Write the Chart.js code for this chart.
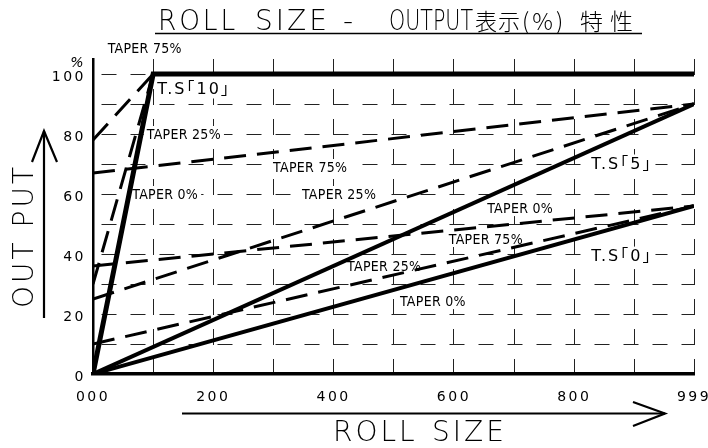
<!DOCTYPE html>
<html><head><meta charset="utf-8">
<script src="https://cdn.jsdelivr.net/npm/chart.js@4.4.0/dist/chart.umd.min.js"></script>
<style>html,body{margin:0;padding:0;background:#fff;}canvas{display:block;}</style>
</head><body>
<canvas id="c" width="708" height="448"></canvas>
<script>
// ---- data (x = roll size, y = output %) ----
const rollSize    = [0, 100, 999];
const ts10Taper0  = [0, 100, 100];
const ts10Taper25 = [30, 100, null];
const ts10Taper75 = [78, 100, null];
const ts5Taper0   = [0, null, 90];
const ts5Taper25  = [25, null, 90];
const ts5Taper75  = [67, null, 90];
const ts0Taper0   = [0, null, 56];
const ts0Taper25  = [10, null, 56];
const ts0Taper75  = [36, null, 56];

const xTickValues = [0,100,200,300,400,500,600,700,800,900,999];
const xTickLabels = ['000','','200','','400','','600','','800','','999'];
const yTickValues = [0,10,20,30,40,50,60,70,80,90,100];
const yTickLabels = ['0','','20','','40','','60','','80','','100'];

// annotation labels (data coordinates)
const noteTexts = ['TAPER 75%','T.S\uFF6210\uFF63','TAPER 25%','TAPER 75%','TAPER 0%','TAPER 25%','T.S\uFF625\uFF63','TAPER 0%','TAPER 75%','T.S\uFF620\uFF63','TAPER 25%','TAPER 0%'];
const noteX = [86, 168, 151, 361, 120, 409, 879, 710, 653, 879, 484, 565];
const noteY = [108.7, 95, 80, 69, 60, 60, 70, 55.3, 45, 39.3, 36, 24.3];

const toPoints = arr => rollSize.map((x, i) => ({x: x, y: arr[i]})).filter(p => p.y !== null);

const SOLID = [], DASH = [22, 11];
const series = [
  [ts10Taper0, 5, SOLID], [ts10Taper25, 3, DASH], [ts10Taper75, 3, DASH],
  [ts5Taper0, 4, SOLID],  [ts5Taper25, 3, DASH],  [ts5Taper75, 3, DASH],
  [ts0Taper0, 4, SOLID],  [ts0Taper25, 3, DASH],  [ts0Taper75, 3, DASH]
];

const deco = {
  id: 'deco',
  beforeDraw(chart) { chart.ctx.letterSpacing = '2.5px'; },
  beforeDatasetsDraw(chart) {
    const ctx = chart.ctx, xs = chart.scales.x, ys = chart.scales.y;
    ctx.save();
    ctx.textAlign = 'center'; ctx.textBaseline = 'middle';
    noteTexts.forEach((t, i) => {
      const isTS = t.startsWith('T.S');
      ctx.font = isTS ? '16px "DejaVu Sans", "Noto Sans CJK JP"' : '14px "DejaVu Sans Condensed", "DejaVu Sans"';
      ctx.letterSpacing = isTS ? '2px' : '0.3px';
      const px = xs.getPixelForValue(noteX[i]), py = ys.getPixelForValue(noteY[i]);
      const w = ctx.measureText(t).width, h = isTS ? 15 : 12;
      ctx.fillStyle = '#fff';
      ctx.fillRect(px - w / 2 - 3, py - h / 2 - 2, w + 6, h + 4);
      ctx.fillStyle = '#000';
      ctx.fillText(t, px, py + 1);
    });
    ctx.restore();
  },
  afterDraw(chart) {
    const ctx = chart.ctx;
    ctx.save();
    ctx.fillStyle = '#000'; ctx.strokeStyle = '#000';
    ctx.textBaseline = 'alphabetic'; ctx.textAlign = 'left';
    // title
    const tfont = '200 28px "DejaVu Sans", "Noto Sans CJK JP"';
    const cfont = '300 23px "Noto Sans CJK JP"';
    const parts = [['ROLL',158,3,tfont,80],['SIZE',255,3,tfont,80],['-',343,0,tfont,20],['OUTPUT',389,0,tfont,84],
                   ['表示',475,1,cfont,46],['(%)',522,3,cfont,46],['特性',580,7,cfont,70]];
    parts.forEach(p => { ctx.font = p[3]; ctx.letterSpacing = p[2] + 'px'; ctx.fillText(p[0], p[1], 30, p[4]); });
    ctx.letterSpacing = '0px';
    ctx.lineWidth = 1.5;
    ctx.beginPath(); ctx.moveTo(155, 33.5); ctx.lineTo(642, 33.5); ctx.stroke();
    // x axis title + arrow
    ctx.font = tfont;
    ctx.letterSpacing = '3px';
    ctx.fillText('ROLL', 333, 441);
    ctx.fillText('SIZE', 432, 441);
    ctx.letterSpacing = '0px';
    ctx.lineWidth = 2.2;
    ctx.beginPath(); ctx.moveTo(182, 413.5); ctx.lineTo(665, 413.5); ctx.stroke();
    ctx.beginPath(); ctx.moveTo(633, 402); ctx.lineTo(665, 413.5); ctx.lineTo(633, 426); ctx.stroke();
    // y axis title + arrow
    ctx.save();
    ctx.translate(33, 236); ctx.rotate(-Math.PI / 2);
    ctx.textAlign = 'center';
    ctx.letterSpacing = '3px';
    ctx.fillText('OUT PUT', 0, 0);
    ctx.restore();
    ctx.beginPath(); ctx.moveTo(44, 318); ctx.lineTo(44, 131); ctx.stroke();
    ctx.beginPath(); ctx.moveTo(32, 162); ctx.lineTo(44, 131); ctx.lineTo(57, 162); ctx.stroke();
    // percent sign
    ctx.font = 'italic 14px "DejaVu Sans"';
    ctx.textAlign = 'center';
    ctx.fillText('%', 77, 67);
    ctx.restore();
  }
};

new Chart(document.getElementById('c'), {
  type: 'line',
  data: {
    datasets: series.map(s => ({
      data: toPoints(s[0]),
      borderColor: '#000',
      borderWidth: s[1],
      borderDash: s[2],
      borderJoinStyle: 'miter',
      pointRadius: 0,
      fill: false,
      tension: 0
    }))
  },
  options: {
    responsive: false,
    animation: false,
    devicePixelRatio: 1,
    layout: {padding: {left: 0, top: 59, right: 14, bottom: 0}},
    plugins: {legend: {display: false}, tooltip: {enabled: false}, title: {display: false}},
    scales: {
      x: {
        type: 'linear', min: 0, max: 999,
        afterBuildTicks: s => { s.ticks = xTickValues.map(v => ({value: v})); },
        afterFit: s => { s.height = 74; s.paddingLeft = 0; s.paddingRight = 0; },
        ticks: {autoSkip: false, maxRotation: 0, color: '#000', padding: 15,
                font: {family: 'DejaVu Sans', size: 14},
                callback: (v, i) => xTickLabels[i]},
        grid: {color: '#222', lineWidth: 1, drawTicks: false},
        border: {display: true, color: '#000', width: 3.5, dash: [16, 14]}
      },
      y: {
        min: 0, max: 105,
        afterBuildTicks: s => { s.ticks = yTickValues.map(v => ({value: v})); },
        afterFit: s => { s.width = 93; s.paddingTop = 0; s.paddingBottom = 0; },
        ticks: {autoSkip: false, color: '#000', padding: 7, labelOffset: 3,
                font: {family: 'DejaVu Sans', size: 14},
                callback: (v, i) => yTickLabels[i]},
        grid: {color: '#222', lineWidth: 1, drawTicks: false},
        border: {display: true, color: '#000', width: 2.5, dash: [15, 14], dashOffset: 22}
      }
    }
  },
  plugins: [deco]
});
</script>
</body></html>
